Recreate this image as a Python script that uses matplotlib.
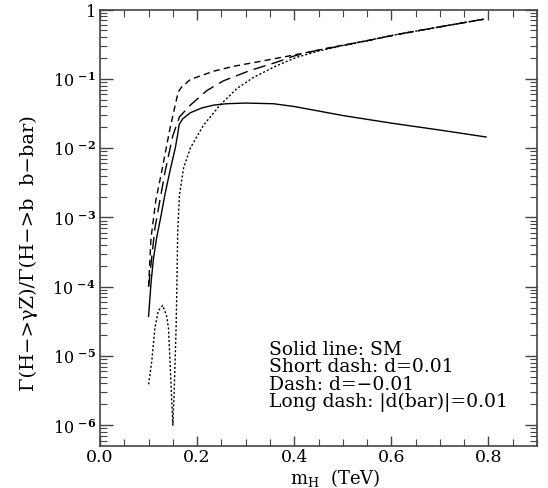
import matplotlib
matplotlib.use('Agg')
import matplotlib.pyplot as plt
from matplotlib.ticker import MultipleLocator, LogLocator, FixedLocator, NullFormatter, FuncFormatter
import numpy as np

# Дані (m_H в TeV, значення як log10 відношення)
sm_x = [0.100, 0.105, 0.110, 0.117, 0.125, 0.134, 0.145, 0.155, 0.160, 0.163,
        0.170, 0.186, 0.210, 0.234, 0.260, 0.300, 0.357, 0.400, 0.500, 0.600,
        0.700, 0.795]
sm_log = [-4.43, -3.95, -3.60, -3.28, -3.00, -2.66, -2.30, -2.00, -1.80, -1.66,
          -1.58, -1.49, -1.42, -1.38, -1.36, -1.35, -1.36, -1.40, -1.53, -1.64,
          -1.74, -1.84]

# short dash: d=0.01 (з нулем біля 0.15)
sd_x = [0.100, 0.1066, 0.113, 0.120, 0.129, 0.137, 0.141, 0.1457, 0.150, 0.1526,
        0.1567, 0.158, 0.160, 0.1636, 0.172, 0.186, 0.213, 0.247, 0.282, 0.316,
        0.364, 0.405, 0.450, 0.500, 0.550, 0.612, 0.700, 0.790]
sd_log = [-5.41, -5.08, -4.60, -4.35, -4.27, -4.42, -4.60, -5.32, -6.00, -5.56,
          -4.60, -4.12, -3.20, -2.68, -2.29, -2.00, -1.67, -1.38, -1.14, -0.98,
          -0.81, -0.69, -0.60, -0.52, -0.45, -0.36, -0.25, -0.14]

# dash: d=-0.01
d_x = [0.100, 0.105, 0.115, 0.127, 0.144, 0.161, 0.168, 0.186, 0.206, 0.234,
       0.275, 0.344, 0.412, 0.481, 0.550, 0.612, 0.700, 0.790]
d_log = [-4.00, -3.30, -2.75, -2.34, -1.72, -1.19, -1.12, -1.01, -0.96, -0.89,
         -0.82, -0.73, -0.64, -0.54, -0.45, -0.36, -0.25, -0.14]

# long dash: |d(bar)|=0.01
ld_x = [0.100, 0.113, 0.134, 0.150, 0.1636, 0.186, 0.220, 0.254, 0.309, 0.364,
        0.400, 0.440, 0.500, 0.550, 0.612, 0.700, 0.790]
ld_log = [-4.00, -3.16, -2.34, -1.82, -1.55, -1.38, -1.17, -1.03, -0.88, -0.76,
          -0.67, -0.60, -0.52, -0.45, -0.36, -0.25, -0.14]

legend_lines = ['Solid line: SM', 'Short dash: d=0.01', 'Dash: d=\u22120.01',
                'Long dash: |d(bar)|=0.01']

plt.rcParams['font.family'] = ['DejaVu Serif']
plt.rcParams['mathtext.fontset'] = 'dejavuserif'

fig = plt.figure(figsize=(5.48, 4.89), dpi=100)
ax = fig.add_axes([0.1825, 0.0859, 0.7975, 0.8926])

ax.plot(sm_x, 10 ** np.array(sm_log), color='black', lw=1.0)
ax.plot(sd_x, 10 ** np.array(sd_log), color='black', lw=1.0, linestyle=(0, (1.5, 1.5)))
ax.plot(d_x, 10 ** np.array(d_log), color='black', lw=1.0, linestyle=(0, (4.5, 3)))
ax.plot(ld_x, 10 ** np.array(ld_log), color='black', lw=1.0, linestyle=(0, (9, 4.5)))

ax.set_yscale('log')
ax.set_xlim(0, 0.9)
ax.set_ylim(10 ** -6.3, 1)

# Осі: тики всередину з усіх боків
ax.xaxis.set_major_locator(MultipleLocator(0.2))
ax.xaxis.set_minor_locator(MultipleLocator(0.05))
ax.xaxis.set_major_formatter(FuncFormatter(lambda v, p: '%.1f' % v))
ax.yaxis.set_major_locator(FixedLocator([1e-6, 1e-5, 1e-4, 1e-3, 1e-2, 1e-1, 1]))
ax.yaxis.set_minor_locator(LogLocator(base=10, subs=np.arange(2, 10)))
ax.yaxis.set_minor_formatter(NullFormatter())


def ylab(v, p):
    e = int(round(np.log10(v)))
    if e == 0:
        return '1'
    return r'$10\;^{\mathbf{%d}}$' % e


ax.yaxis.set_major_formatter(FuncFormatter(ylab))
ax.tick_params(which='both', direction='in', top=True, right=True, labelsize=12,
               color='#444444')
ax.tick_params(axis='y', which='major', length=9, width=1, pad=3, labelsize=11.5)
ax.tick_params(axis='y', which='minor', length=5, width=0.8)
ax.tick_params(axis='x', which='major', length=7, width=1, pad=1.5, labelsize=12.5)
ax.tick_params(axis='x', which='minor', length=5, width=0.8)
for s in ax.spines.values():
    s.set_linewidth(1.2)
    s.set_color('#444444')

# Підписи осей
fig.text(0.611, 0.022, r'm$_\mathregular{H}$  (TeV)', ha='center', va='center', fontsize=13)
fig.text(0.052, 0.482, '\u0393(H\u2212>\u03b3Z)/\u0393(H\u2212>b  b\u2212bar)', rotation=90,
         ha='center', va='center', fontsize=14)

# Легенда як текст
for i, line in enumerate(legend_lines):
    ax.text(0.347, 10 ** (-4.9 - 0.25 * i), line, ha='left', va='center', fontsize=13.5)

plt.savefig('out.png', dpi=100)
